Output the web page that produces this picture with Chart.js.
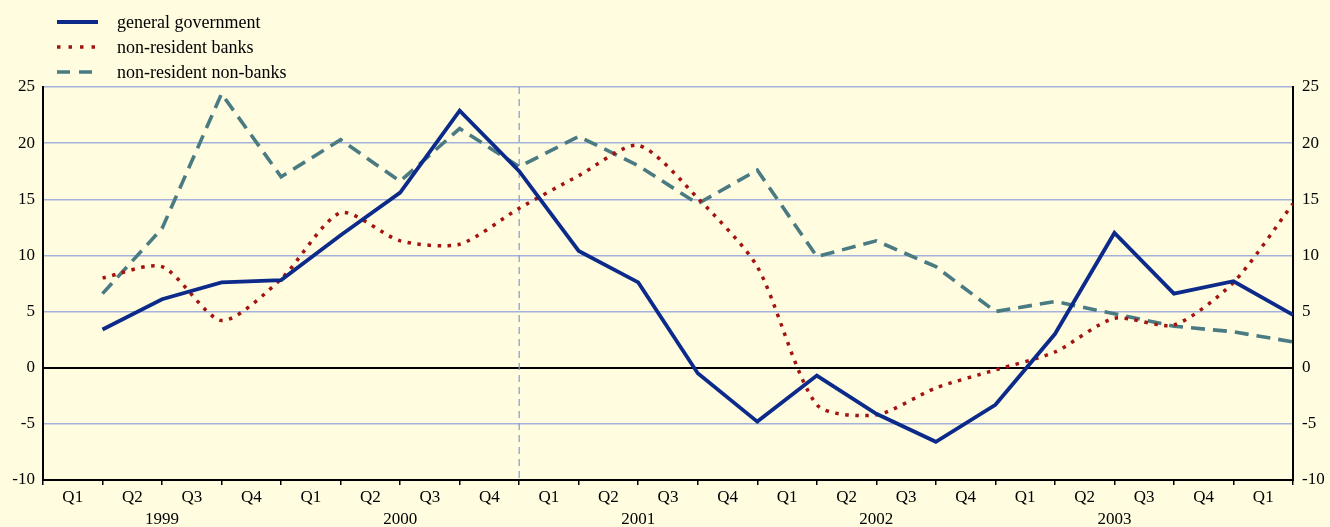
<!DOCTYPE html>
<html>
<head>
<meta charset="utf-8">
<script src="https://cdn.jsdelivr.net/npm/chart.js@4.4.1/dist/chart.umd.min.js"></script>
<style>
  html, body { margin: 0; padding: 0; background: #FFFCE0; }
  #wrap { width: 1330px; height: 527px; }
</style>
</head>
<body>
<div id="wrap"><canvas id="chart" width="1330" height="527"></canvas></div>
<script>
// quarter-end observations, Q1 1999 .. Q1 2004
const quarterLabels = ["Q1", "Q2", "Q3", "Q4"];
const years = ["1999", "2000", "2001", "2002", "2003"];
const generalGovernment = [3.4, 6.1, 7.6, 7.8, 11.8, 15.6, 22.9, 17.5, 10.4, 7.6, -0.5, -4.8, -0.7, -4.1, -6.6, -3.3, 3.0, 12.0, 6.6, 7.7, 4.7];
const nonResidentBanks = [8.0, 9.0, 4.2, 7.9, 13.8, 11.3, 11.0, 14.2, 17.1, 19.8, 15.1, 9.0, -3.3, -4.2, -1.8, -0.2, 1.4, 4.4, 3.8, 7.6, 14.6];
const nonResidentNonBanks = [6.6, 12.4, 24.4, 17.0, 20.3, 16.6, 21.3, 17.9, 20.6, 18.0, 14.6, 17.6, 9.9, 11.3, 9.0, 5.0, 5.9, 4.8, 3.7, 3.2, 2.3];
const nQuarters = 21;
const markerQuarter = 8; // end of 2000

const toPoints = arr => arr.map((v, i) => ({ x: i + 1, y: v }));
const FONT = "'Liberation Serif', 'DejaVu Serif', serif";

const legendPlugin = {
  id: "sideLegend",
  afterDraw(chart) {
    const c = chart.ctx;
    chart.data.datasets.forEach((ds, i) => {
      const y = 22 + i * 25;
      c.save();
      c.strokeStyle = ds.borderColor;
      c.lineWidth = ds.borderWidth;
      c.setLineDash(ds.legendDash || []);
      c.beginPath();
      c.moveTo(57, y);
      c.lineTo(98, y);
      c.stroke();
      c.restore();
      c.save();
      c.fillStyle = "#000";
      c.font = "18px " + FONT;
      c.textBaseline = "middle";
      c.fillText(ds.label, 117, y + 1);
      c.restore();
    });
  }
};

const markerPlugin = {
  id: "yearMarker",
  beforeDatasetsDraw(chart) {
    const x = chart.scales.x.getPixelForValue(markerQuarter);
    const a = chart.chartArea;
    const c = chart.ctx;
    c.save();
    c.strokeStyle = "#8499D6";
    c.lineWidth = 1.2;
    c.setLineDash([7, 5]);
    c.beginPath();
    c.moveTo(x, a.top);
    c.lineTo(x, a.bottom);
    c.stroke();
    c.restore();
  }
};

const bgPlugin = {
  id: "bg",
  beforeDraw(chart) {
    const c = chart.ctx;
    c.save();
    c.fillStyle = "#FFFCE0";
    c.fillRect(0, 0, chart.width, chart.height);
    c.restore();
  }
};

const ctx = document.getElementById("chart").getContext("2d");
const chart = new Chart(ctx, {
  type: "line",
  data: {
    datasets: [{
      label: "general government",
      data: toPoints(generalGovernment),
      borderColor: "#0B2A8A",
      borderWidth: 3.8,
      tension: 0,
      legendDash: []
    }, {
      label: "non-resident banks",
      data: toPoints(nonResidentBanks),
      borderColor: "#A3130F",
      borderWidth: 3.5,
      borderDash: [3.5, 6.5],
      tension: 0.25,
      legendDash: [3.5, 8]
    }, {
      label: "non-resident non-banks",
      data: toPoints(nonResidentNonBanks),
      borderColor: "#4A7B82",
      borderWidth: 3.6,
      borderDash: [14, 8],
      tension: 0,
      legendDash: [13, 9]
    }]
  },
  options: {
    responsive: false,
    animation: false,
    layout: { padding: { top: 87, left: 0, right: 0, bottom: 0 } },
    elements: { point: { radius: 0 } },
    plugins: { legend: { display: false }, tooltip: { enabled: false } },
    scales: {
      x: {
        type: "linear",
        position: "bottom",
        min: 0,
        max: nQuarters,
        afterBuildTicks(scale) {
          const t = [];
          for (let i = 0; i <= nQuarters * 2; i++) t.push({ value: i / 2 });
          scale.ticks = t;
        },
        afterFit(scale) { scale.height = 26; },
        ticks: {
          autoSkip: false,
          maxRotation: 0,
          padding: 2,
          color: "#000",
          font: { family: FONT, size: 17 },
          callback: v => Number.isInteger(v) ? "" : quarterLabels[Math.floor(v) % 4]
        },
        grid: {
          drawOnChartArea: false,
          drawTicks: true,
          tickLength: 5,
          lineWidth: 1.5,
          color: c => Number.isInteger(c.tick.value) ? "#000" : "rgba(0,0,0,0)"
        },
        border: { color: "#000", width: 2 }
      },
      year: {
        type: "linear",
        position: "bottom",
        min: 0,
        max: nQuarters,
        afterBuildTicks(scale) {
          scale.ticks = years.map((y, i) => ({ value: i * 4 + 2 }));
        },
        afterFit(scale) { scale.height = 21; },
        ticks: {
          autoSkip: false,
          maxRotation: 0,
          padding: 3,
          color: "#000",
          font: { family: FONT, size: 17 },
          callback: v => years[(v - 2) / 4]
        },
        grid: { display: false, drawTicks: false },
        border: { display: false }
      },
      y: {
        position: "left",
        min: -10,
        max: 25,
        afterFit(scale) { scale.width = 43; },
        ticks: {
          stepSize: 5,
          padding: 8,
          color: "#000",
          font: { family: FONT, size: 17 }
        },
        grid: {
          drawTicks: false,
          color: c => c.tick.value === 0 ? "#000" : "#A3B2DA",
          lineWidth: c => c.tick.value === 0 ? 2 : 1.5
        },
        border: { color: "#000", width: 2 }
      },
      y2: {
        position: "right",
        min: -10,
        max: 25,
        afterFit(scale) { scale.width = 37; },
        ticks: {
          stepSize: 5,
          padding: 9,
          color: "#000",
          font: { family: FONT, size: 17 }
        },
        grid: { drawOnChartArea: false, drawTicks: false },
        border: { color: "#000", width: 2 }
      }
    }
  },
  plugins: [bgPlugin, markerPlugin, legendPlugin]
});
</script>
</body>
</html>
